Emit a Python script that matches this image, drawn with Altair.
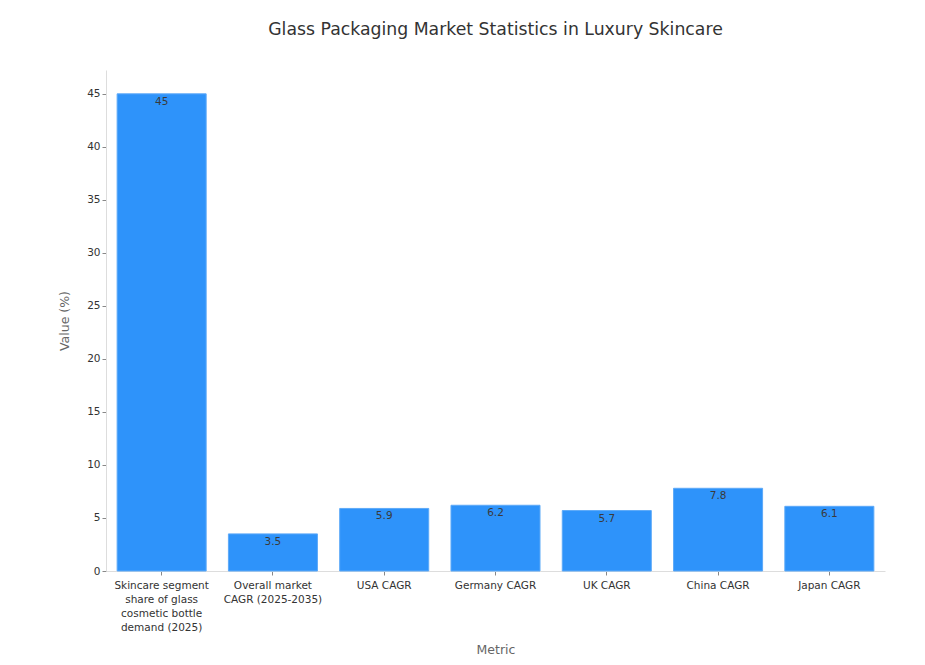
import altair as alt
import pandas as pd

metrics = [
    "Skincare segment\nshare of glass\ncosmetic bottle\ndemand (2025)",
    "Overall market\nCAGR (2025-2035)",
    "USA CAGR",
    "Germany CAGR",
    "UK CAGR",
    "China CAGR",
    "Japan CAGR",
]
values = [45, 3.5, 5.9, 6.2, 5.7, 7.8, 6.1]
labels = ["45", "3.5", "5.9", "6.2", "5.7", "7.8", "6.1"]

df = pd.DataFrame({"Metric": metrics, "Value": values, "Label": labels})

FONT = "DejaVu Sans"

x = alt.X(
    "Metric:N",
    sort=metrics,
    title="Metric",
    scale=alt.Scale(paddingInner=0.2, paddingOuter=0.1),
    axis=alt.Axis(
        labelAngle=0,
        labelExpr="split(datum.value, '\\n')",
        labelFontSize=10.5,
        labelColor="#333333",
        labelLineHeight=14,
        labelPadding=5,
        titleFontSize=12.5,
        titleColor="#666666",
        titleFontWeight="normal",
        titlePadding=11,
        domainColor="#dddddd",
        tickColor="#888888",
        tickSize=4,
    ),
)
y = alt.Y(
    "Value:Q",
    title="Value (%)",
    scale=alt.Scale(domain=[0, 47.25], nice=False),
    axis=alt.Axis(
        values=[0, 5, 10, 15, 20, 25, 30, 35, 40, 45],
        grid=False,
        labelFontSize=10.5,
        labelColor="#333333",
        titleFontSize=12.5,
        titleColor="#666666",
        titleFontWeight="normal",
        titlePadding=15,
        domainColor="#dddddd",
        tickColor="#888888",
        tickSize=4,
    ),
)

bars = alt.Chart(df).mark_bar(color="#2E93FA", stroke="#5DA9F8", strokeWidth=1).encode(x=x, y=y)
text = alt.Chart(df).mark_text(
    baseline="top", dy=3, fontSize=10.5, color="#3a3a3a", font=FONT
).encode(x=alt.X("Metric:N", sort=metrics), y="Value:Q", text="Label:N")

chart = (
    alt.layer(bars, text)
    .properties(
        width=779,
        height=501,
        title=alt.Title(
            "Glass Packaging Market Statistics in Luxury Skincare",
            fontSize=17.3,
            fontWeight="normal",
            color="#333333",
            font=FONT,
            offset=32,
        ),
        autosize=alt.AutoSizeParams(type="none"),
        padding={"left": 98, "top": 62, "right": 30, "bottom": 92},
    )
    .configure(font=FONT)
    .configure_view(stroke=None)
)

chart.save("out.html", embed_options={"renderer": "svg", "actions": False})
